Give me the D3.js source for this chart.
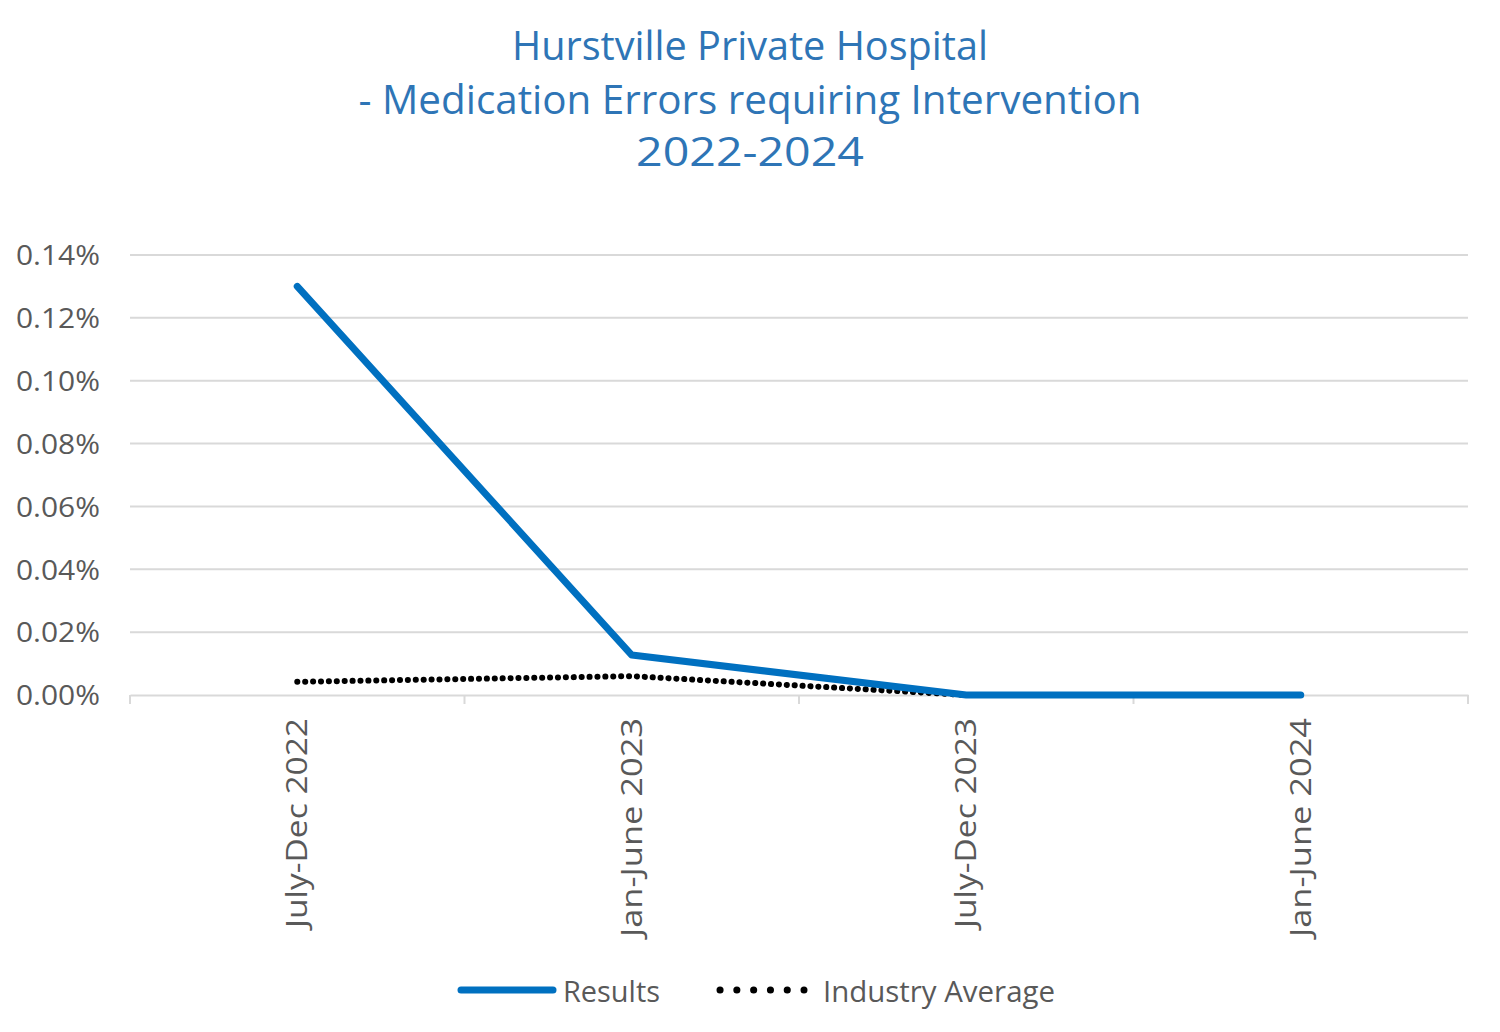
<!DOCTYPE html>
<html><head><meta charset="utf-8">
<script src="https://cdn.jsdelivr.net/npm/d3@7"></script>
<style>body{margin:0;background:#fff}svg{display:block}</style>
</head><body>
<svg id="c" width="1500" height="1032"></svg>
<script>
const titleLines = ["Hurstville Private Hospital", "- Medication Errors requiring Intervention", "2022-2024"];
const categories = ["July-Dec 2022", "Jan-June 2023", "July-Dec 2023", "Jan-June 2024"];
const results = [0.13, 0.0127, 0, 0];
const industryAverage = [0.0042, 0.006, 0, 0];
const yTicks = [0, 0.02, 0.04, 0.06, 0.08, 0.10, 0.12, 0.14];
const seriesNames = ["Results", "Industry Average"];

const svg = d3.select("#c");
const FONT = "'Open Sans', 'Noto Sans', sans-serif";
const L = 130, R = 1468, T = 255, B = 695;

const x = d3.scaleBand().domain(categories).range([L, R]);
const y = d3.scaleLinear().domain([0, 0.14]).range([B, T]);

function fit(sel, w) {
  sel.each(function(d){ const n=this; const ww = typeof w==="function"? w(d): w; if(n.getComputedTextLength()>0){ n.setAttribute("textLength", ww); n.setAttribute("lengthAdjust","spacingAndGlyphs"); } });
}

// title
const titleY = [60, 114, 166];
const titleW = [476, 783, 228];
titleLines.forEach((t,i)=>{
  svg.append("text").attr("x",750).attr("y",titleY[i]).attr("text-anchor","middle")
    .attr("font-family",FONT).attr("font-size",40).attr("fill","#2E75B6").text(t)
    .call(fit, titleW[i]);
});

// gridlines
svg.append("g").selectAll("line").data(yTicks.filter(d=>d>0)).join("line")
  .attr("x1",L).attr("x2",R).attr("y1",d=>y(d)).attr("y2",d=>y(d))
  .attr("stroke","#d9d9d9").attr("stroke-width",2);

// y axis labels
const yAxis = svg.append("g").attr("transform",`translate(${L},0)`)
  .call(d3.axisLeft(y).tickValues(yTicks).tickFormat(d=>d3.format(".2f")(d)+"%").tickSize(0).tickPadding(30));
yAxis.select(".domain").remove();
yAxis.selectAll("text").attr("font-family",FONT).attr("font-size",28).attr("fill","#595959")
  .attr("dy","0.35em").call(fit, 84);

// x axis
const xAxis = svg.append("g").attr("transform",`translate(0,${B})`)
  .call(d3.axisBottom(x).tickSize(0).tickPadding(0));
xAxis.select(".domain").attr("stroke","#d9d9d9").attr("stroke-width",2);
xAxis.selectAll("text").attr("font-family",FONT).attr("font-size",29).attr("fill","#595959")
  .attr("transform","rotate(-90)").attr("text-anchor","end").attr("x",-23).attr("y",0).attr("dy","0.35em")
  .call(fit, d=> d.startsWith("Jan") ? 219 : 210);
// boundary ticks between categories
const bounds = categories.map(c=>x(c)).concat([x(categories[categories.length-1])+x.bandwidth()]);
svg.append("g").selectAll("line").data(bounds).join("line")
  .attr("x1",d=>d).attr("x2",d=>d).attr("y1",B).attr("y2",B+9)
  .attr("stroke","#d9d9d9").attr("stroke-width",2);

const cx = d=>x(d)+x.bandwidth()/2;
const line = d3.line().x((d,i)=>cx(categories[i])).y(d=>y(d));

svg.append("path").datum(industryAverage).attr("d",line).attr("fill","none")
  .attr("stroke","#000").attr("stroke-width",6).attr("stroke-linecap","round").attr("stroke-dasharray","0.1 7.8");
svg.append("path").datum(results).attr("d",line).attr("fill","none")
  .attr("stroke","#0070C0").attr("stroke-width",7).attr("stroke-linejoin","round").attr("stroke-linecap","round");

// legend
const lg = svg.append("g");
lg.append("line").attr("x1",461).attr("x2",553).attr("y1",990).attr("y2",990)
  .attr("stroke","#0070C0").attr("stroke-width",7).attr("stroke-linecap","round");
lg.append("text").attr("x",563).attr("y",1002).attr("font-family",FONT).attr("font-size",30).attr("fill","#595959").text(seriesNames[0]).call(fit,97);
lg.append("line").attr("x1",720).attr("x2",804).attr("y1",990).attr("y2",990)
  .attr("stroke","#000").attr("stroke-width",7).attr("stroke-linecap","round").attr("stroke-dasharray","0.1 16.7");
lg.append("text").attr("x",823).attr("y",1002).attr("font-family",FONT).attr("font-size",30).attr("fill","#595959").text(seriesNames[1]).call(fit,232);
</script>
</body></html>
